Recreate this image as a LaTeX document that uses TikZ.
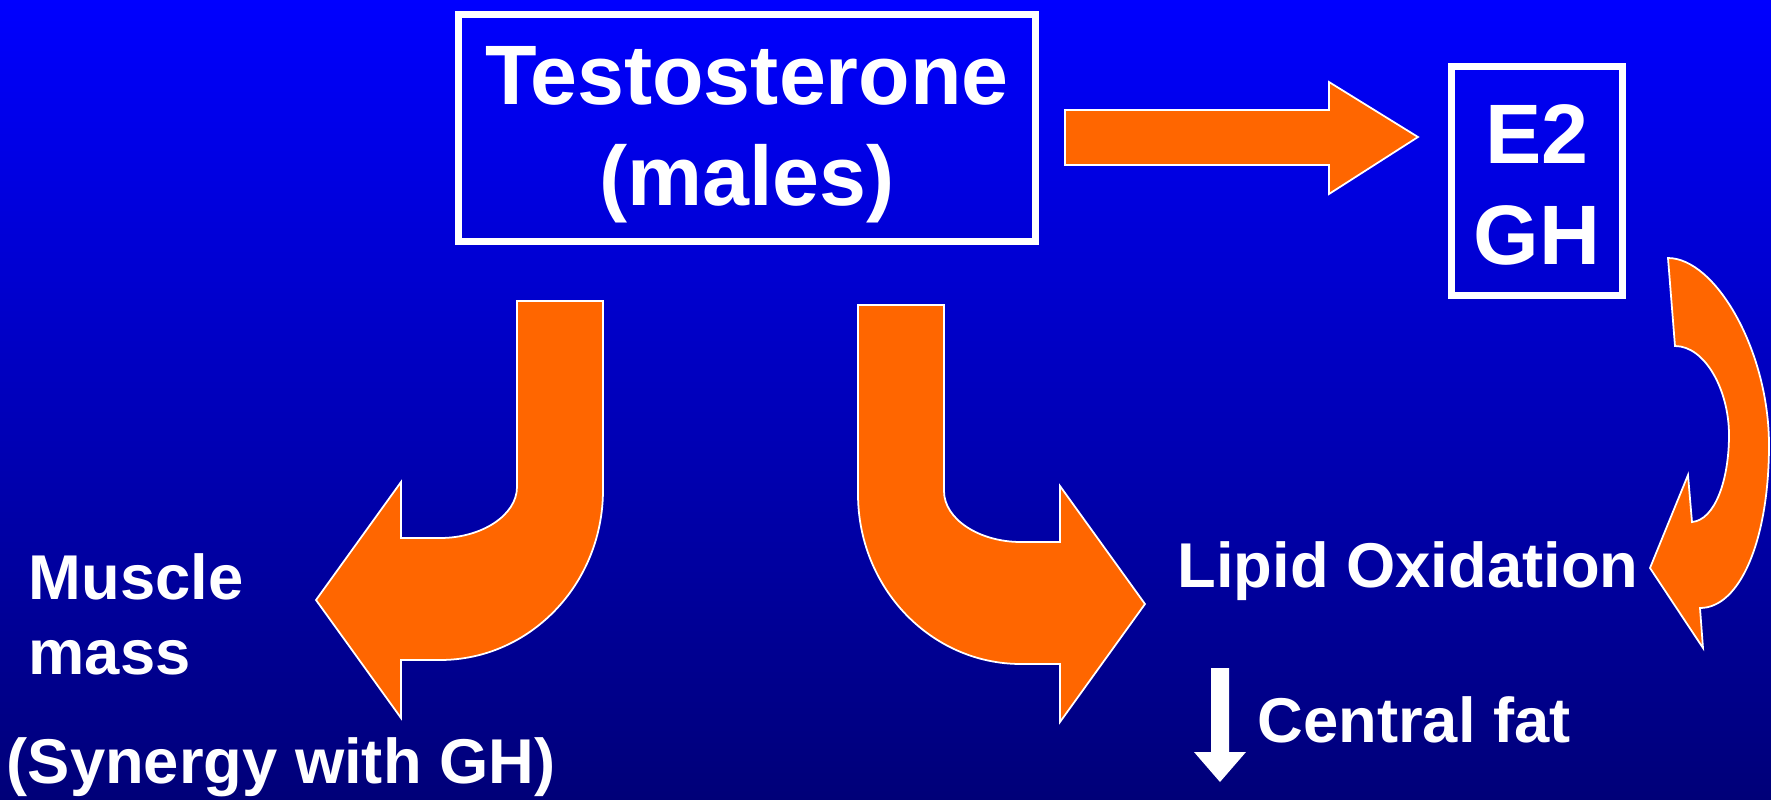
\documentclass[tikz,border=0pt]{standalone}
\usepackage{fontspec}
\setmainfont{Liberation Sans}
\usetikzlibrary{positioning}

\definecolor{slideblue}{RGB}{0,0,255}
\definecolor{slidemid}{RGB}{0,0,232}
\definecolor{slidenavy}{RGB}{0,0,120}
\definecolor{arroworange}{RGB}{255,102,0}

\begin{document}
\begin{tikzpicture}[x=0.01cm, y=-0.01cm,
        frame/.style={rectangle, draw=white, line width=2pt, inner sep=0pt},
        titletext/.style={inner sep=0pt, align=center, text=white, font=\bfseries\fontsize{24}{28.7}\selectfont},
        effect/.style={text=white, align=left, inner sep=0pt, font=\bfseries\fontsize{18}{21.3}\selectfont},
        bigarrow/.style={fill=arroworange, draw=white, line width=0.5pt, line join=miter}
    ]
        % Background
        \useasboundingbox (0,0) rectangle (1771,799);
        \shade[top color=slideblue, middle color=slidemid, bottom color=slidenavy] (0,0) rectangle (1771,799);

        % Hormone boxes
        \node[frame, minimum width=5.77cm, minimum height=2.27cm] (testo) at (747,128) {};
        \node[titletext] (testolabel) at (747,135) {Testosterone\\(males)};
        \node[frame, minimum width=1.70cm, minimum height=2.28cm] (hormones) at (1537,181) {};
        \node[titletext] (hormoneslabel) at (1537,185) {E2\\GH};

        % Effects
        \node[effect, anchor=base west] (muscle) at (28,674) {Muscle\\mass};
        \node[effect, anchor=base west] (synergy) at (6,783) {(Synergy with GH)};
        \node[effect, anchor=base west] (lipid) at (1177,587) {Lipid Oxidation};
        \node[effect, anchor=base west] (fat) at (1257,742) {Central fat};

        % Straight arrow
        \draw[bigarrow] (1065,110) -- (1329,110) -- (1329,82) -- (1418,137) -- (1329,194) -- (1329,165) -- (1065,165) -- cycle;

        % Curved arrow to muscle
        \draw[bigarrow] (603,301) -- (603,490) .. controls (603,584) and (530,660) .. (440,660) -- (401,660) -- (401,718) -- (316,600) -- (401,482) -- (401,538) -- (440,538) .. controls (482,538) and (517,515) .. (517,487) -- (517,301) -- cycle;

        % Curved arrow to lipid oxidation
        \draw[bigarrow] (858,305) -- (858,494) .. controls (858,588) and (931,664) .. (1021,664) -- (1060,664) -- (1060,722) -- (1145,604) -- (1060,486) -- (1060,542) -- (1021,542) .. controls (979,542) and (944,519) .. (944,491) -- (944,305) -- cycle;

        % Curved arrow from E2/GH
        \draw[bigarrow] (1668,258) .. controls (1715,258) and (1769,350) .. (1769,445) .. controls (1769,540) and (1740,608) .. (1700,608) -- (1703,648) -- (1650,568) -- (1688,475) -- (1692,522) .. controls (1715,520) and (1729,480) .. (1729,435) .. controls (1729,390) and (1705,346) .. (1675,346) -- cycle;

        % Down arrow
        \fill[white] (1211,668) -- (1229,668) -- (1229,752) -- (1246,752) -- (1220,782) -- (1194,752) -- (1211,752) -- cycle;
    \end{tikzpicture}
\end{document}
